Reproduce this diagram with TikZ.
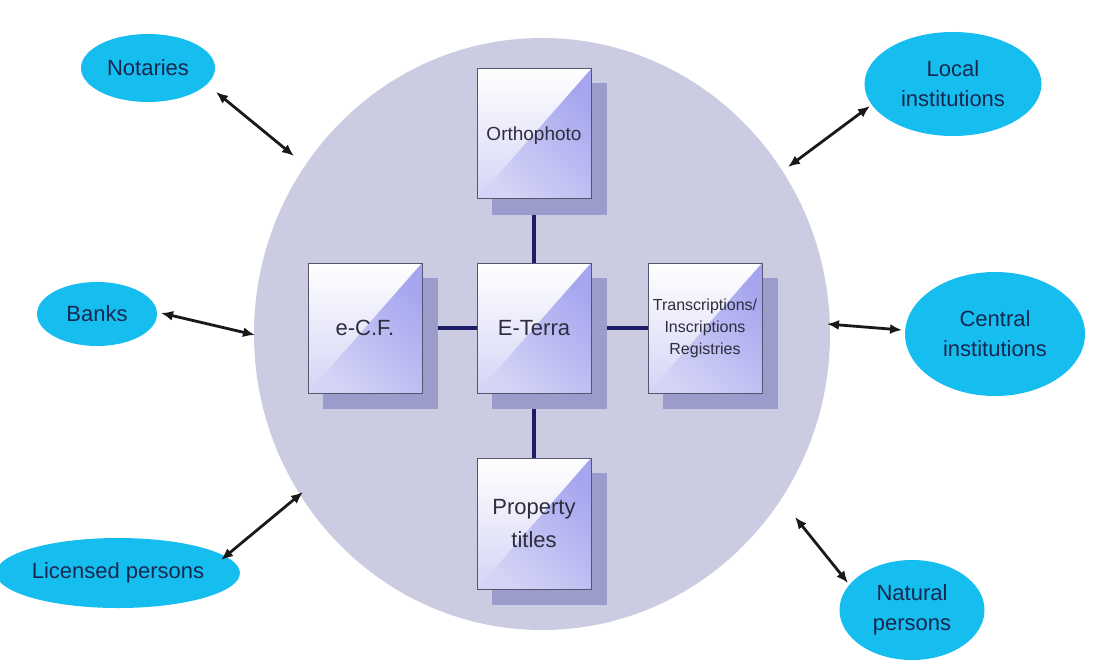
\documentclass[tikz,border=0pt]{standalone}
\usepackage{fontspec}
\setmainfont{Liberation Sans}
\usetikzlibrary{shapes.geometric,arrows.meta}
\definecolor{bigc}{RGB}{203,203,226}
\definecolor{shadowc}{RGB}{155,155,204}
\definecolor{boxline}{RGB}{85,85,110}
\definecolor{lavA}{RGB}{166,166,240}
\definecolor{lavC}{RGB}{212,212,246}
\definecolor{connc}{RGB}{28,28,105}
\definecolor{cyanc}{RGB}{22,190,240}
\definecolor{partytext}{RGB}{22,40,80}
\definecolor{boxtext}{RGB}{45,45,60}
\pgfdeclarelayer{bg}
\pgfdeclarelayer{mid}
\pgfsetlayers{bg,mid,main}
\tikzset{
  box/.style={draw=boxline, line width=1pt, minimum width=114pt, minimum height=130pt,
    inner sep=0pt, align=center, text=boxtext, font=\fontsize{22}{27}\selectfont,
    path picture={
      \shade[top color=white, bottom color=lavC]
        (path picture bounding box.south west) rectangle (path picture bounding box.north east);
      \shade[top color=lavA, bottom color=lavC, shading angle=-45]
        (path picture bounding box.north east) -- (path picture bounding box.south west)
        -- (path picture bounding box.south east) -- cycle;
    }},
  party/.style={ellipse, fill=cyanc, text=partytext, align=center, inner sep=0pt,
    font=\fontsize{22}{30}\selectfont},
  connline/.style={draw=connc, line width=3.2pt},
  dbl/.style={draw=black!90, line width=2.8pt, {Latex[length=12pt,width=10pt]}-{Latex[length=12pt,width=10pt]}},
}
\begin{document}
\begin{tikzpicture}[x=1pt,y=-1pt]
\useasboundingbox (0,0) rectangle (1097,671);

% boxes
\node[box, font=\fontsize{19}{23}\selectfont, text depth=-6pt] (ortho) at (534,134) {Orthophoto};
\node[box] (ecf) at (365,328) {e-C.F.};
\node[box] (eterra) at (534,328) {E-Terra};
\node[box, font=\fontsize{16}{22}\selectfont] (trans) at (705,328) {Transcriptions/\\Inscriptions\\Registries};
\node[box, minimum height=131pt, font=\fontsize{22}{33}\selectfont] (prop) at (534,523.5) {Property\\titles};

\begin{pgfonlayer}{bg}
  \fill[white] (0,0) rectangle (1097,671);
  \node[ellipse, fill=bigc, minimum width=576pt, minimum height=592pt, inner sep=0pt] (big) at (542,334) {};
  \draw[connline] (ortho.center) -- (eterra.center);
  \draw[connline] (ecf.center) -- (eterra.center);
  \draw[connline] (eterra.center) -- (trans.center);
  \draw[connline] (eterra.center) -- (prop.center);
\end{pgfonlayer}
\begin{pgfonlayer}{mid}
  \foreach \b in {ortho,ecf,eterra,trans,prop}{
    \fill[shadowc] ([shift={(15,15)}]\b.south west) rectangle ([shift={(15,15)}]\b.north east);
  }
\end{pgfonlayer}

% outside parties
\node[party, minimum width=134pt, minimum height=68pt] (notaries) at (148,68) {Notaries};
\node[party, minimum width=120pt, minimum height=64pt] (banks) at (97,314) {Banks};
\node[party, minimum width=218pt, minimum height=70pt] (licensed) at (118,573) {Licensed persons};
\node[party, minimum width=177pt, minimum height=104pt] (local) at (953,84) {Local\\institutions};
\node[party, minimum width=180pt, minimum height=124pt] (central) at (995,334) {Central\\institutions};
\node[party, minimum width=145pt, minimum height=100pt] (natural) at (912,610) {Natural\\persons};

% arrow ends
\coordinate (nA) at (216,92);   \coordinate (nB) at (294,156);
\coordinate (bA) at (161,313);  \coordinate (bB) at (255,335);
\coordinate (lA) at (221,560);  \coordinate (lB) at (303,492);
\coordinate (oA) at (870,106);  \coordinate (oB) at (788,167);
\coordinate (cA) at (902,330);  \coordinate (cB) at (827,324);
\coordinate (tA) at (848,583);  \coordinate (tB) at (795,517);

\draw[dbl] (nA) -- (nB);
\draw[dbl] (bA) -- (bB);
\draw[dbl] (lA) -- (lB);
\draw[dbl] (oA) -- (oB);
\draw[dbl] (cA) -- (cB);
\draw[dbl] (tA) -- (tB);
\end{tikzpicture}
\end{document}
